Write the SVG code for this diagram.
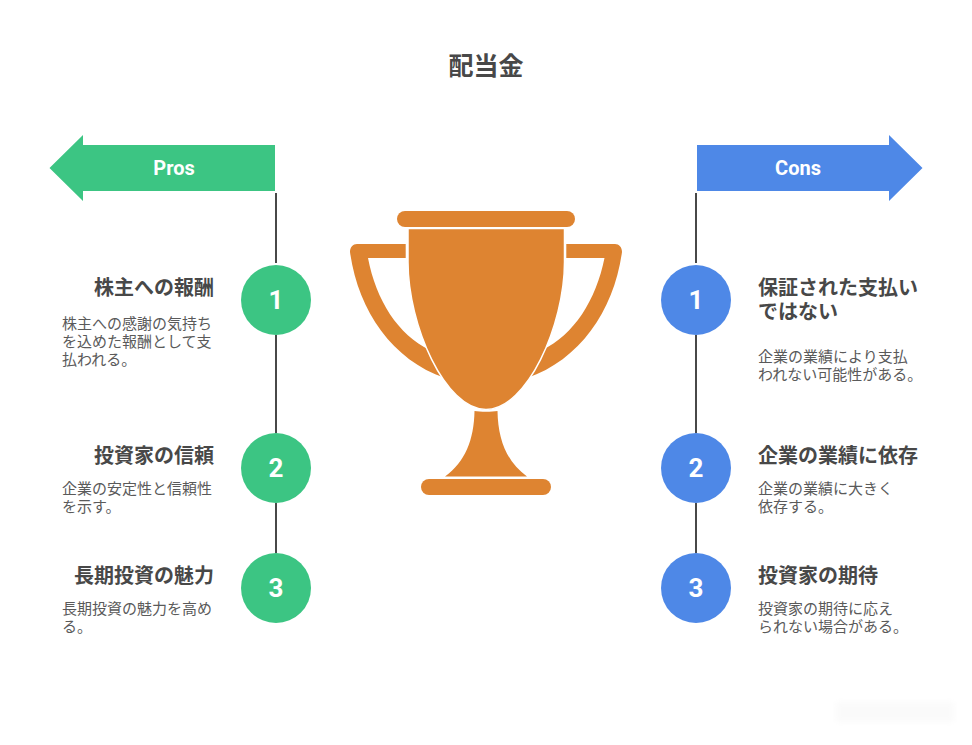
<svg xmlns="http://www.w3.org/2000/svg" width="972" height="745" viewBox="0 0 972 745">
<style>
text{font-family:Roboto,"Noto Sans CJK JP",sans-serif;fill:#484848}
.t{font-size:25px;font-weight:700;text-anchor:middle}
.h{font-size:20px;font-weight:700}
.b{font-size:15px;fill:#5a5a5a}
.e{text-anchor:end}
.l{font-size:20px;font-weight:700;fill:#fff;text-anchor:middle}
.n{font-size:26px;font-weight:700;fill:#fff;text-anchor:middle}
.g{fill:#3cc583}.u{fill:#4e88e7}.o{fill:#de8431}
.c{stroke:#484848;stroke-width:2;fill:none}
</style>
<defs><filter id="bl" x="-20%" y="-50%" width="140%" height="200%"><feGaussianBlur stdDeviation="3"/></filter></defs>
<rect width="972" height="745" fill="#fff"/>
<rect x="836" y="702" width="118" height="20" fill="#fafafa" filter="url(#bl)"/>
<text id="title" class="t" x="486" y="75">配当金</text>
<g id="connectors">
<path class="c" d="M276 193V263M276 335V433M276 503V553"/>
<path class="c" d="M696 193V263M696 335V433M696 503V553"/>
</g>
<g id="pros-header"><path class="g" d="M275 145V191H83V201L49.500 168L83 135V145Z"/><text class="l" x="174" y="175">Pros</text></g>
<g id="cons-header"><path class="u" d="M697 145V191H889V201L922.500 168L889 135V145Z"/><text class="l" x="798" y="175">Cons</text></g>
<g id="trophy">
<rect class="o" x="397" y="211" width="178" height="16" rx="8"/>
<path class="o" d="M405.700 244V258H368C376 300 398 335 430 350L445 378C392 360 358 310 350 252C350 247 353 244 357 244Z"/>
<path class="o" d="M566.300 244V258H604.500C596 300 574 335 542 350L527 378C580 360 614 310 622 252C622 247 619 244 615 244Z"/>
<path class="o" stroke="#fff" stroke-width="1.500" d="M408 228.500H564.500V262C564.500 325 527 409.500 486 409.500C445 409.500 408 325 408 262Z"/>
<path class="o" d="M474.500 411C480 412 492 412 497.500 411C498 440 507 462 527 476.500H445C465 462 474 440 474.500 411Z"/>
<rect class="o" x="421" y="479" width="130" height="16" rx="8"/>
</g>
<g id="pro-1"><circle class="g" cx="276" cy="300" r="35"/><text class="n" x="276" y="309">1</text>
<text class="h e" x="214" y="295">株主への報酬</text>
<text class="b" x="62" y="329">株主への感謝の気持ち</text><text class="b" x="62" y="347">を込めた報酬として支</text><text class="b" x="62" y="365">払われる。</text></g>
<g id="pro-2"><circle class="g" cx="276" cy="468" r="35"/><text class="n" x="276" y="477">2</text>
<text class="h e" x="214" y="463">投資家の信頼</text>
<text class="b" x="62" y="494">企業の安定性と信頼性</text><text class="b" x="62" y="512">を示す。</text></g>
<g id="pro-3"><circle class="g" cx="276" cy="588" r="35"/><text class="n" x="276" y="597">3</text>
<text class="h e" x="214" y="583">長期投資の魅力</text>
<text class="b" x="62" y="614">長期投資の魅力を高め</text><text class="b" x="62" y="632">る。</text></g>
<g id="con-1"><circle class="u" cx="696" cy="300" r="35"/><text class="n" x="696" y="309">1</text>
<text class="h" x="758" y="295">保証された支払い</text><text class="h" x="758" y="319">ではない</text>
<text class="b" x="758" y="362">企業の業績により支払</text><text class="b" x="758" y="380">われない可能性がある。</text></g>
<g id="con-2"><circle class="u" cx="696" cy="468" r="35"/><text class="n" x="696" y="477">2</text>
<text class="h" x="758" y="463">企業の業績に依存</text>
<text class="b" x="758" y="494">企業の業績に大きく</text><text class="b" x="758" y="512">依存する。</text></g>
<g id="con-3"><circle class="u" cx="696" cy="588" r="35"/><text class="n" x="696" y="597">3</text>
<text class="h" x="758" y="583">投資家の期待</text>
<text class="b" x="758" y="614">投資家の期待に応え</text><text class="b" x="758" y="632">られない場合がある。</text></g>
</svg>
